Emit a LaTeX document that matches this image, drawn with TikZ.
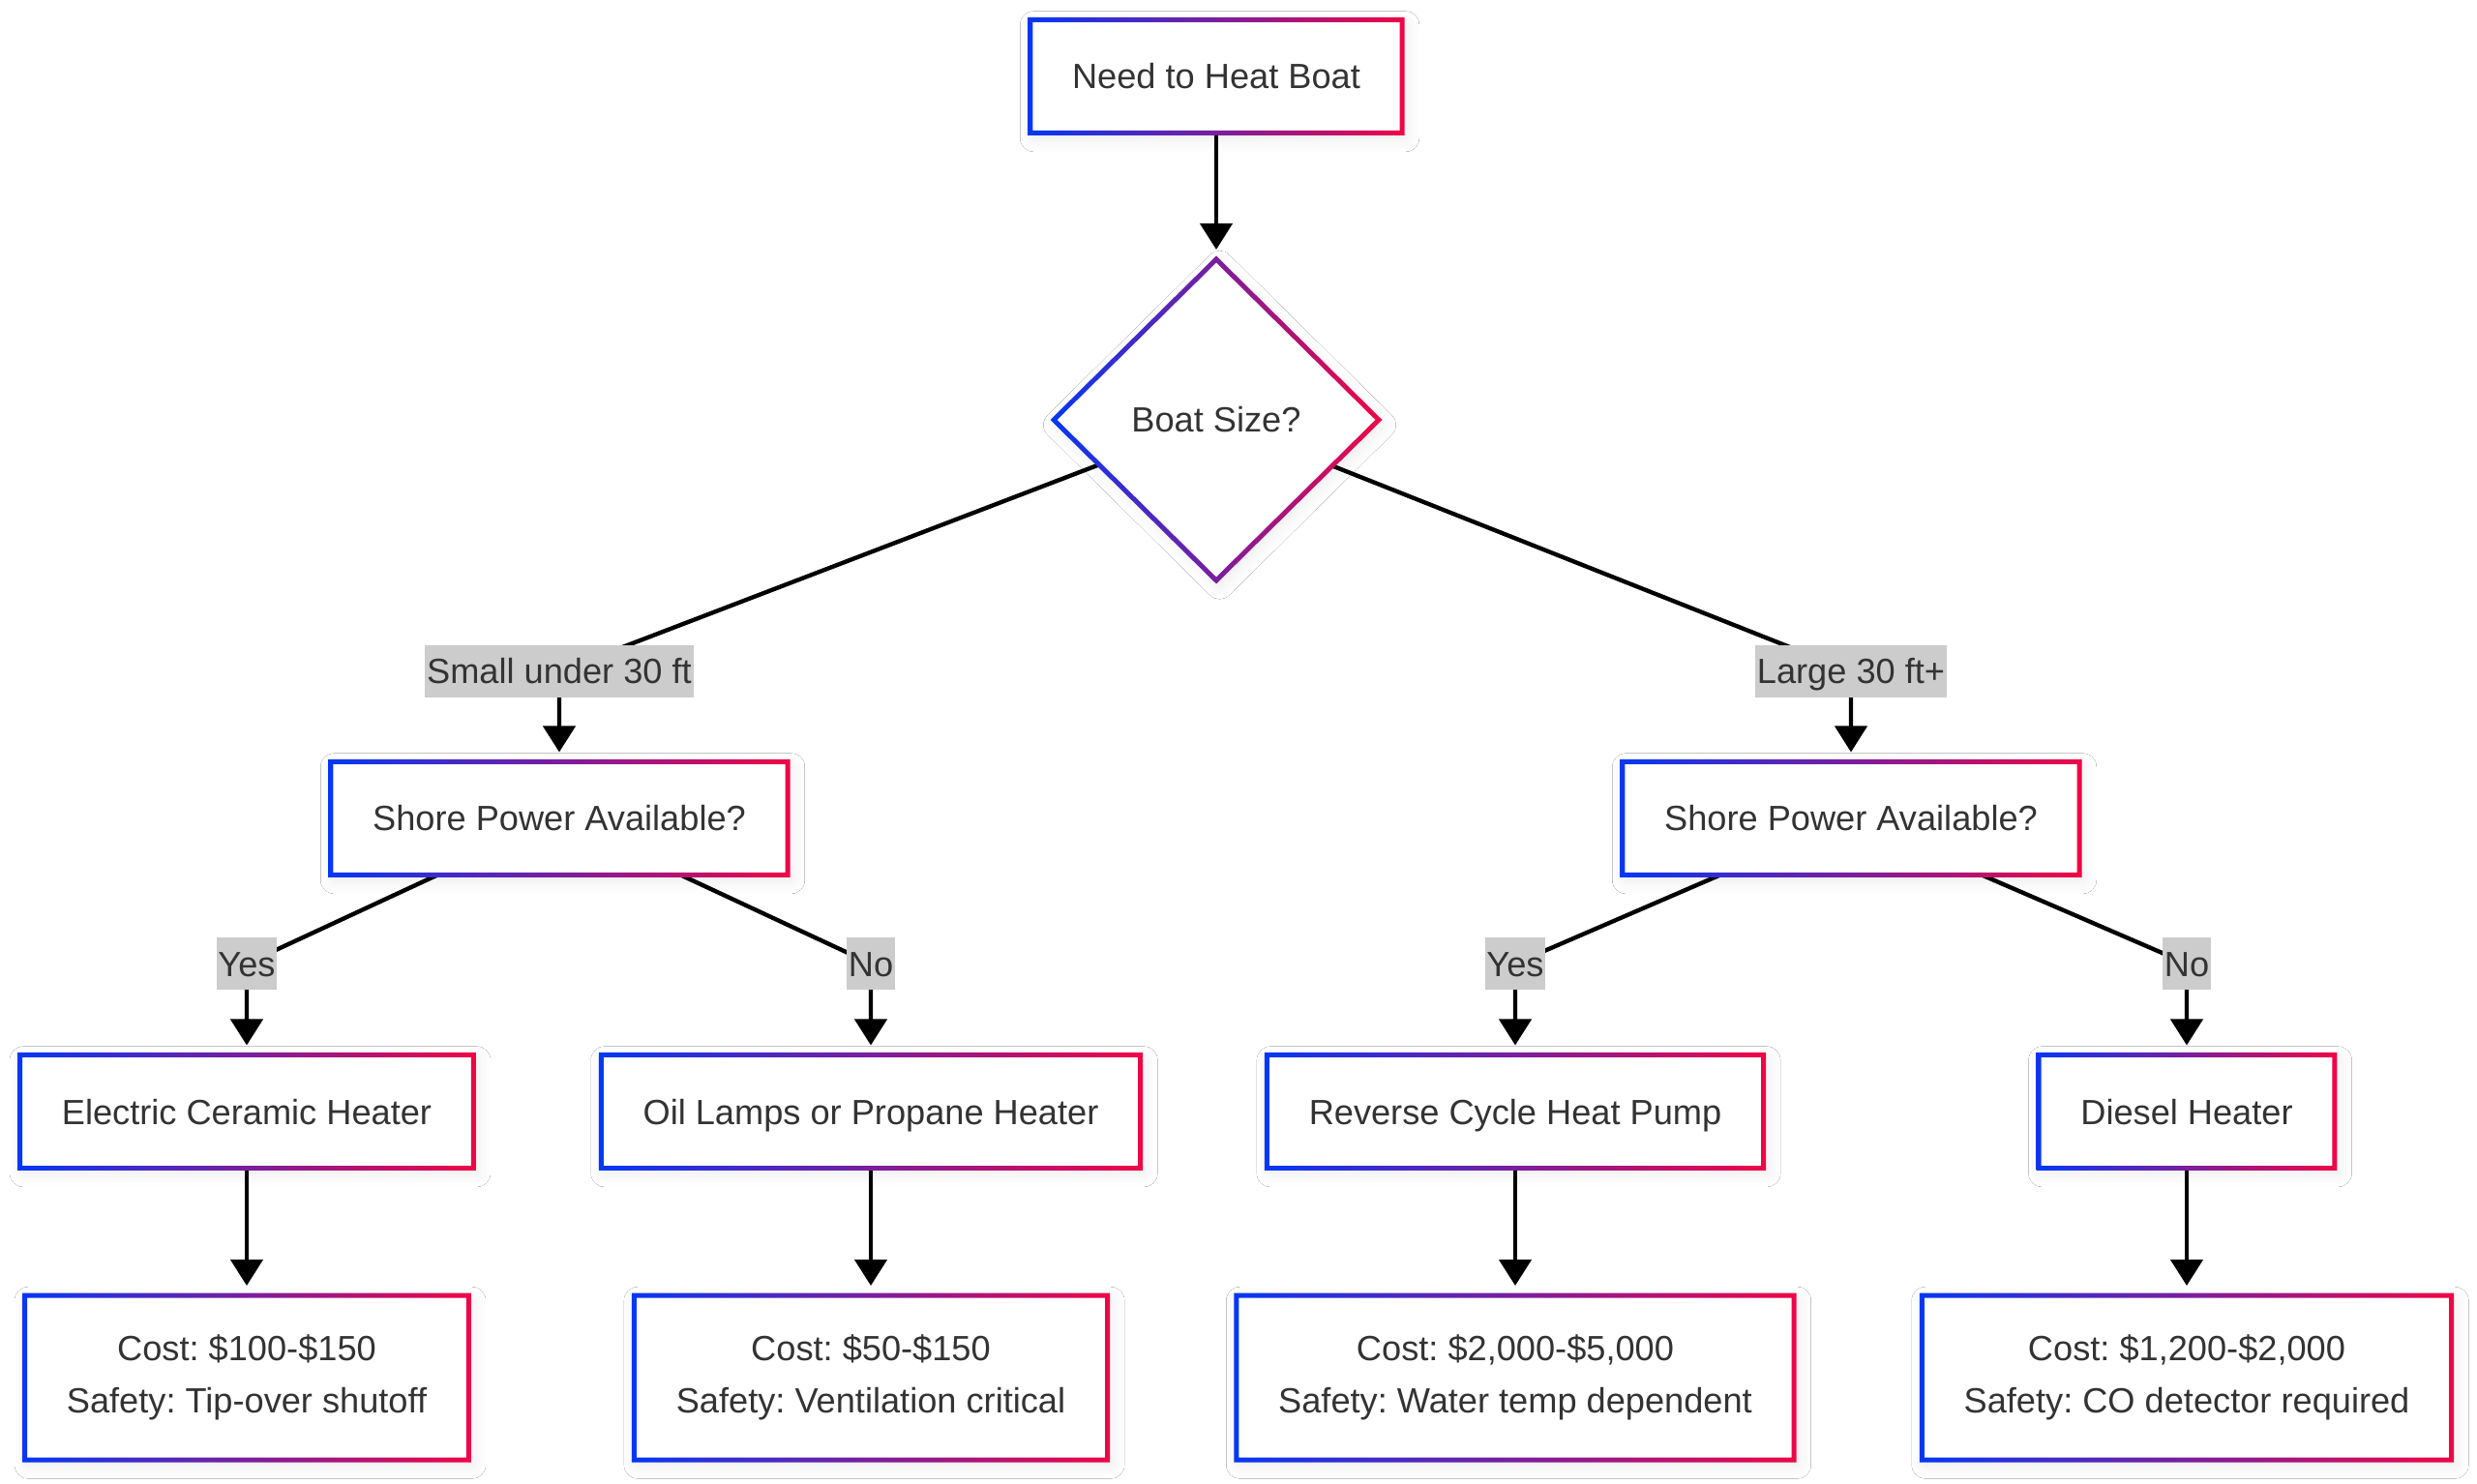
\documentclass[tikz,border=0pt]{standalone}
\usepackage{fontspec}
\setmainfont{Liberation Sans}
\usepackage{tikz}
\usetikzlibrary{positioning, backgrounds, shapes.geometric, arrows.meta, shadows.blur}
\definecolor{gblue}{RGB}{5,55,245}
\definecolor{gred}{RGB}{240,5,70}
\definecolor{txt}{RGB}{51,51,51}
\frenchspacing
\tikzstyle{block} = [rectangle, fill=white, text=txt, inner xsep=0.433cm, inner ysep=0pt,
                 minimum height=1.17cm, outer sep=0pt, align=center,
                 text height=9.4pt, text depth=2pt,
                 blur shadow={shadow xshift=1pt, shadow yshift=-1.5pt, shadow opacity=9,
                 	shadow blur radius=4pt, shadow blur steps=8}]
\tikzstyle{branch} = [draw, line width=1.25pt, -{Triangle[length=0.27cm, width=0.33cm]},
                 shorten >=0.1cm]
\tikzset{
	every node/.style={font=\fontsize{10.3pt}{15.3pt}\selectfont},
	decision/.style={diamond, aspect=1, fill=white, text=txt, inner sep=0pt, outer sep=0pt,
		minimum width=3.36cm, minimum height=3.32cm,
		blur shadow={shadow xshift=1pt, shadow yshift=-1.5pt, shadow opacity=9,
			shadow blur radius=4pt, shadow blur steps=8}},
	choice/.style={fill=black!20, text=txt, inner xsep=0.5pt, inner ysep=0pt,
		minimum height=0.54cm, text height=9.4pt, text depth=2pt},
	frame/.style={left color=gblue, right color=gred, even odd rule},
}
\newcommand{\gframe}[1]{%
	\shade[frame] ([shift={(-0.025,-0.025)}]#1.south west) rectangle ([shift={(0.025,0.025)}]#1.north east)
		([shift={(0.025,0.025)}]#1.south west) rectangle ([shift={(-0.025,-0.025)}]#1.north east);}

\begin{document}
\begin{tikzpicture}

\useasboundingbox (0,0) rectangle (25.6,-15.34);

\node [block] (need) at (12.57,-0.79) {Need to Heat Boat};
\node [decision] (size) at (12.57,-4.34) {Boat Size?};

\node [choice] (small) at (5.78,-6.94) {Small under 30 ft};
\node [choice] (large) at (19.13,-6.94) {Large 30 ft+};

\node [block] (spow) at (5.78,-8.46) {Shore Power Available?};
\node [block] (lpow) at (19.13,-8.46) {Shore Power Available?};

\foreach \x/\n/\t in {2.55/yes1/Yes, 9.00/no1/No, 15.66/yes2/Yes, 22.60/no2/No}
	\node [choice] (\n) at (\x,-9.96) {\t};

\foreach \x/\n/\t in {2.55/elec/Electric Ceramic Heater, 9.00/oil/Oil Lamps or Propane Heater,
		15.66/pump/Reverse Cycle Heat Pump, 22.60/diesel/Diesel Heater}
	\node [block] (\n) at (\x,-11.49) {\t};

\foreach \x/\n/\t in {2.55/celec/{Cost: \$100-\$150\\Safety: Tip-over shutoff},
		9.00/coil/{Cost: \$50-\$150\\Safety: Ventilation critical},
		15.66/cpump/{Cost: \$2,000-\$5,000\\Safety: Water temp dependent},
		22.60/cdiesel/{Cost: \$1,200-\$2,000\\Safety: CO detector required}}
	\node [block, minimum height=1.70cm, text height=, text depth=] (\n) at (\x,-14.24) {\t};

	%borders
\foreach \n in {need, spow, lpow, elec, oil, pump, diesel, celec, coil, cpump, cdiesel}
	\gframe{\n};
\shade[frame] ([yshift=0.035cm]size.north) -- ([xshift=0.035cm]size.east)
		-- ([yshift=-0.035cm]size.south) -- ([xshift=-0.035cm]size.west) -- cycle
	([yshift=-0.035cm]size.north) -- ([xshift=-0.035cm]size.east)
		-- ([yshift=0.035cm]size.south) -- ([xshift=0.035cm]size.west) -- cycle;

\begin{scope}[on background layer]
\fill[white] (0,0) rectangle (25.6,-15.34);
\path[branch] (need) -- (size);
\path[branch] (size) -- (small.center) -- (spow);
\path[branch] (size) -- (large.center) -- (lpow);
\path[branch] (spow) -- (yes1.center) -- (elec);
\path[branch] (spow) -- (no1.center) -- (oil);
\path[branch] (lpow) -- (yes2.center) -- (pump);
\path[branch] (lpow) -- (no2.center) -- (diesel);
\foreach \a/\b in {elec/celec, oil/coil, pump/cpump, diesel/cdiesel}
	\path[branch] (\a) -- (\b);
\end{scope}

\end{tikzpicture}
\end{document}
